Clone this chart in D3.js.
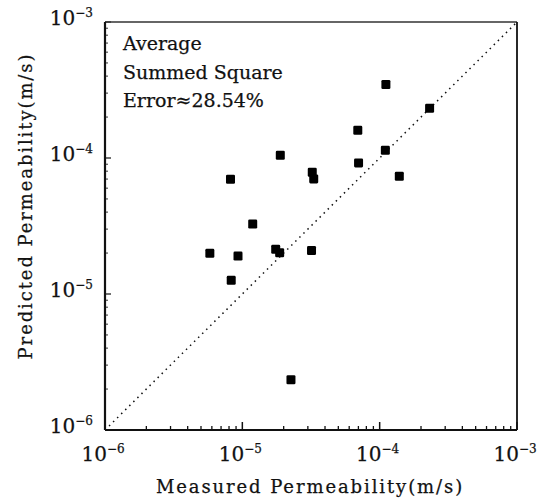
<!DOCTYPE html>
<html>
<head>
<meta charset="utf-8">
<script src="https://cdn.jsdelivr.net/npm/d3@7"></script>
<style>
  body { margin: 0; background: #fff; }
  svg { display: block; }
  text { font-family: "DejaVu Serif", "Liberation Serif", serif; fill: #111; stroke: #111; stroke-width: 0.25; }
</style>
</head>
<body>
<svg id="chart" width="541" height="500"></svg>
<script>
// Measured vs. predicted permeability (m/s)
const measured = [5.8e-6, 8.2e-6, 8.3e-6, 9.3e-6, 1.19e-5, 1.75e-5, 1.87e-5, 1.89e-5, 2.26e-5,
                  3.19e-5, 3.23e-5, 3.31e-5, 6.93e-5, 7.02e-5, 1.10e-4, 1.11e-4, 1.39e-4, 2.31e-4];
const predicted = [1.99e-5, 6.97e-5, 1.26e-5, 1.90e-5, 3.27e-5, 2.13e-5, 2.01e-5, 1.047e-4, 2.34e-6,
                   2.09e-5, 7.85e-5, 7.02e-5, 1.60e-4, 9.20e-5, 1.14e-4, 3.47e-4, 7.33e-5, 2.32e-4];
const decadeTicks = [1e-6, 1e-5, 1e-4, 1e-3];
const decadeExponents = ["-6", "-5", "-4", "-3"];
const annotation = ["Average", "Summed Square", "Error\u224828.54%"];
const xTitle = "Measured Permeability(m/s)";
const yTitle = "Predicted Permeability(m/s)";

const svg = d3.select("#chart");
const plotL = 105, plotR = 517, plotT = 22, plotB = 430;

const x = d3.scaleLog().domain([1e-6, 1e-3]).range([plotL, plotR]);
const y = d3.scaleLog().domain([1e-6, 1e-3]).range([plotB, plotT]);

// minor ticks (2..9 per decade), drawn inward
const minor = [];
for (let e = -6; e < -3; e++) for (let m = 2; m <= 9; m++) minor.push(m * Math.pow(10, e));

const g = svg.append("g");

// bottom axis ticks
g.selectAll(".xminor").data(minor).join("line")
  .attr("x1", d => x(d)).attr("x2", d => x(d))
  .attr("y1", plotB).attr("y2", d => plotB - (String(d).startsWith("5") ? 5 : 4))
  .attr("stroke", "#111").attr("stroke-width", 1.3);
g.selectAll(".xmajor").data(decadeTicks).join("line")
  .attr("x1", d => x(d)).attr("x2", d => x(d))
  .attr("y1", plotB).attr("y2", plotB - 8)
  .attr("stroke", "#111").attr("stroke-width", 1.5);

// left axis ticks
g.selectAll(".yminor").data(minor).join("line")
  .attr("y1", d => y(d)).attr("y2", d => y(d))
  .attr("x1", plotL).attr("x2", plotL + 3)
  .attr("stroke", "#333").attr("stroke-width", 1);
g.selectAll(".ymajor").data(decadeTicks).join("line")
  .attr("y1", d => y(d)).attr("y2", d => y(d))
  .attr("x1", plotL).attr("x2", plotL + 6)
  .attr("stroke", "#111").attr("stroke-width", 1.2);

// frame
g.append("line").attr("x1", plotL).attr("x2", plotR).attr("y1", plotT).attr("y2", plotT)
  .attr("stroke", "#333").attr("stroke-width", 1.3);
g.append("line").attr("x1", plotR).attr("x2", plotR).attr("y1", plotT).attr("y2", plotB)
  .attr("stroke", "#111").attr("stroke-width", 1.8);
g.append("line").attr("x1", plotL).attr("x2", plotL).attr("y1", plotT).attr("y2", plotB)
  .attr("stroke", "#111").attr("stroke-width", 2.2);
g.append("line").attr("x1", plotL).attr("x2", plotR).attr("y1", plotB).attr("y2", plotB)
  .attr("stroke", "#111").attr("stroke-width", 2);

// 1:1 line
g.append("line")
  .attr("x1", x(1e-6)).attr("y1", y(1e-6)).attr("x2", x(1e-3)).attr("y2", y(1e-3))
  .attr("stroke", "#111").attr("stroke-width", 1.5)
  .attr("stroke-dasharray", "1.5,4.2");

// data points
const s = 9;
g.selectAll(".pt").data(measured).join("rect")
  .attr("x", d => x(d) - s / 2)
  .attr("y", (d, i) => y(predicted[i]) - s / 2)
  .attr("width", s).attr("height", s)
  .attr("rx", 1.3)
  .attr("fill", "#000");

// tick labels
const xl = svg.append("g");
decadeTicks.forEach((d, i) => {
  const t = xl.append("text").attr("x", x(d) - 2).attr("y", 461)
    .attr("text-anchor", "middle").attr("font-size", 20);
  t.append("tspan").text("10");
  t.append("tspan").attr("dy", -8).attr("font-size", 12).text("\u2212" + decadeExponents[i].slice(1));
});
decadeTicks.forEach((d, i) => {
  const t = xl.append("text").attr("x", 93).attr("y", y(d) + 3)
    .attr("text-anchor", "end").attr("font-size", 20);
  t.append("tspan").text("10");
  t.append("tspan").attr("dy", -8).attr("font-size", 12).text("\u2212" + decadeExponents[i].slice(1));
});

// axis titles
svg.append("text").attr("x", 310).attr("y", 493).attr("text-anchor", "middle")
  .attr("font-size", 18).attr("letter-spacing", 1.9).text(xTitle);
svg.append("text").attr("transform", "translate(32,206) rotate(-90)")
  .attr("text-anchor", "middle").attr("font-size", 18).attr("letter-spacing", 1.9).text(yTitle);

// annotation
svg.append("g").selectAll("text").data(annotation).join("text")
  .attr("x", 123).attr("y", (d, i) => 50 + i * 28.5)
  .attr("font-size", 19).text(d => d);
</script>
</body>
</html>
